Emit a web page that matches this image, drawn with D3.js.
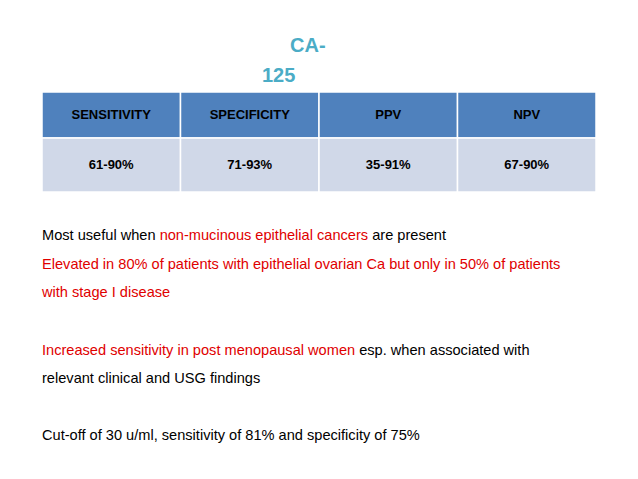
<!DOCTYPE html><html><head><meta charset="utf-8"><script src="https://d3js.org/d3.v7.min.js"></script>
<style>body{margin:0;background:#fff}</style></head><body><script>
const headers=["SENSITIVITY","SPECIFICITY","PPV","NPV"];
const values=["61-90%","71-93%","35-91%","67-90%"];
const lines=[
 [["Most useful when ","#000"],["non-mucinous epithelial cancers","#e00000"],[" are present","#000"]],
 [["Elevated in 80% of patients with epithelial ovarian Ca but only in 50% of patients","#e00000"]],
 [["with stage I disease","#e00000"]],
 [["Increased sensitivity in post menopausal women","#e00000"],[" esp. when associated with","#000"]],
 [["relevant clinical and USG findings","#000"]],
 [["Cut-off of 30 u/ml, sensitivity of 81% and specificity of 75%","#000"]]];
const lineY=[240,269,297,355,383,440];
const svg=d3.select("body").append("svg").attr("width",638).attr("height",479).style("font-family","Liberation Sans, Arial");
svg.append("text").attr("x",290).attr("y",52).text("CA-").attr("fill","#4bacc6").attr("font-size",20).attr("font-weight","bold");
svg.append("text").attr("x",262).attr("y",82).text("125").attr("fill","#4bacc6").attr("font-size",20).attr("font-weight","bold");
const x=d3.scaleBand().domain(headers).range([42,596]);
const rows=[{y:92,h:46,fill:"#4f81bd",t:headers},{y:138,h:54,fill:"#d0d8e8",t:values}];
rows.forEach(r=>{
 svg.selectAll(null).data(headers).enter().append("rect").attr("x",d=>x(d)).attr("y",r.y).attr("width",x.bandwidth()).attr("height",r.h).attr("fill",r.fill).attr("stroke","#fff").attr("stroke-width",1.5);
 svg.selectAll(null).data(r.t).enter().append("text").attr("x",(d,i)=>x(headers[i])+x.bandwidth()/2).attr("y",r.y+r.h/2+4).attr("text-anchor","middle").attr("font-size",13).attr("font-weight","bold").attr("fill","#000").text(d=>d);
});
lines.forEach((l,i)=>{const t=svg.append("text").attr("x",42).attr("y",lineY[i]).attr("font-size",14.6);
 l.forEach(s=>t.append("tspan").attr("fill",s[1]).style("white-space","pre").text(s[0]));});
</script></body></html>
